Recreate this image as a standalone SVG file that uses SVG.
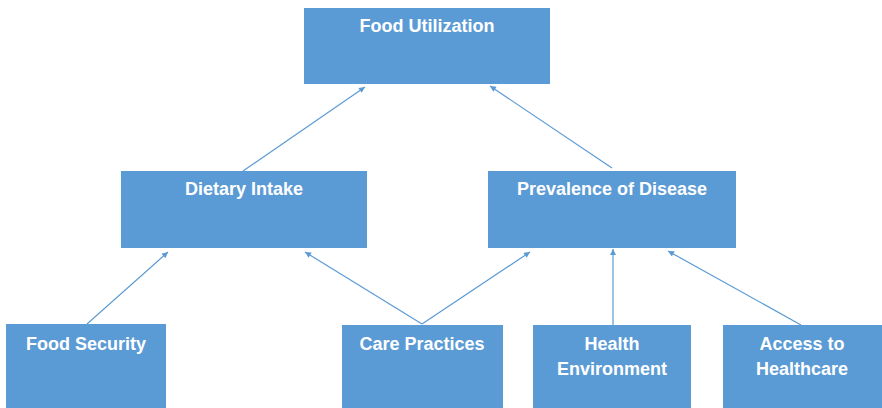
<svg xmlns="http://www.w3.org/2000/svg" width="882" height="408" viewBox="0 0 882 408">
<style>
.box{fill:#5b9bd5;}
.lbl{fill:#ffffff;font-family:"Liberation Sans",Arial,sans-serif;font-weight:bold;font-size:18px;text-anchor:middle;}
.conn{stroke:#5b9bd5;stroke-width:1.2;fill:none;marker-end:url(#ah);}
</style>
<defs>
<marker id="ah" viewBox="0 0 10 10" refX="10" refY="5" markerWidth="7" markerHeight="6" markerUnits="userSpaceOnUse" orient="auto">
<path d="M0,0 L10,5 L0,10 z" fill="#5b9bd5"/>
</marker>
</defs>
<rect width="882" height="408" fill="#ffffff"/>
<g id="connectors">
<line class="conn" x1="243" y1="171" x2="365" y2="87"/>
<line class="conn" x1="612" y1="168" x2="490" y2="86"/>
<line class="conn" x1="87" y1="324" x2="168" y2="252"/>
<line class="conn" x1="422" y1="324" x2="305" y2="252"/>
<line class="conn" x1="422" y1="324" x2="530" y2="252"/>
<line class="conn" x1="613" y1="325" x2="613" y2="249"/>
<line class="conn" x1="801" y1="325" x2="668" y2="251"/>
</g>
<g id="food-utilization">
<rect class="box" x="304" y="8" width="246" height="76"/>
<text class="lbl" x="427" y="32">Food Utilization</text>
</g>
<g id="dietary-intake">
<rect class="box" x="121" y="171" width="246" height="77"/>
<text class="lbl" x="244" y="195">Dietary Intake</text>
</g>
<g id="prevalence-of-disease">
<rect class="box" x="488" y="171" width="248" height="77"/>
<text class="lbl" x="612" y="195">Prevalence of Disease</text>
</g>
<g id="food-security">
<rect class="box" x="6" y="324" width="160" height="84"/>
<text class="lbl" x="86" y="350">Food Security</text>
</g>
<g id="care-practices">
<rect class="box" x="342" y="325" width="161" height="83"/>
<text class="lbl" x="422" y="350">Care Practices</text>
</g>
<g id="health-environment">
<rect class="box" x="533" y="325" width="158" height="83"/>
<text class="lbl" x="612" y="350">Health</text>
<text class="lbl" x="612" y="375">Environment</text>
</g>
<g id="access-to-healthcare">
<rect class="box" x="723" y="325" width="159" height="83"/>
<text class="lbl" x="802" y="350">Access to</text>
<text class="lbl" x="802" y="375">Healthcare</text>
</g>
</svg>
